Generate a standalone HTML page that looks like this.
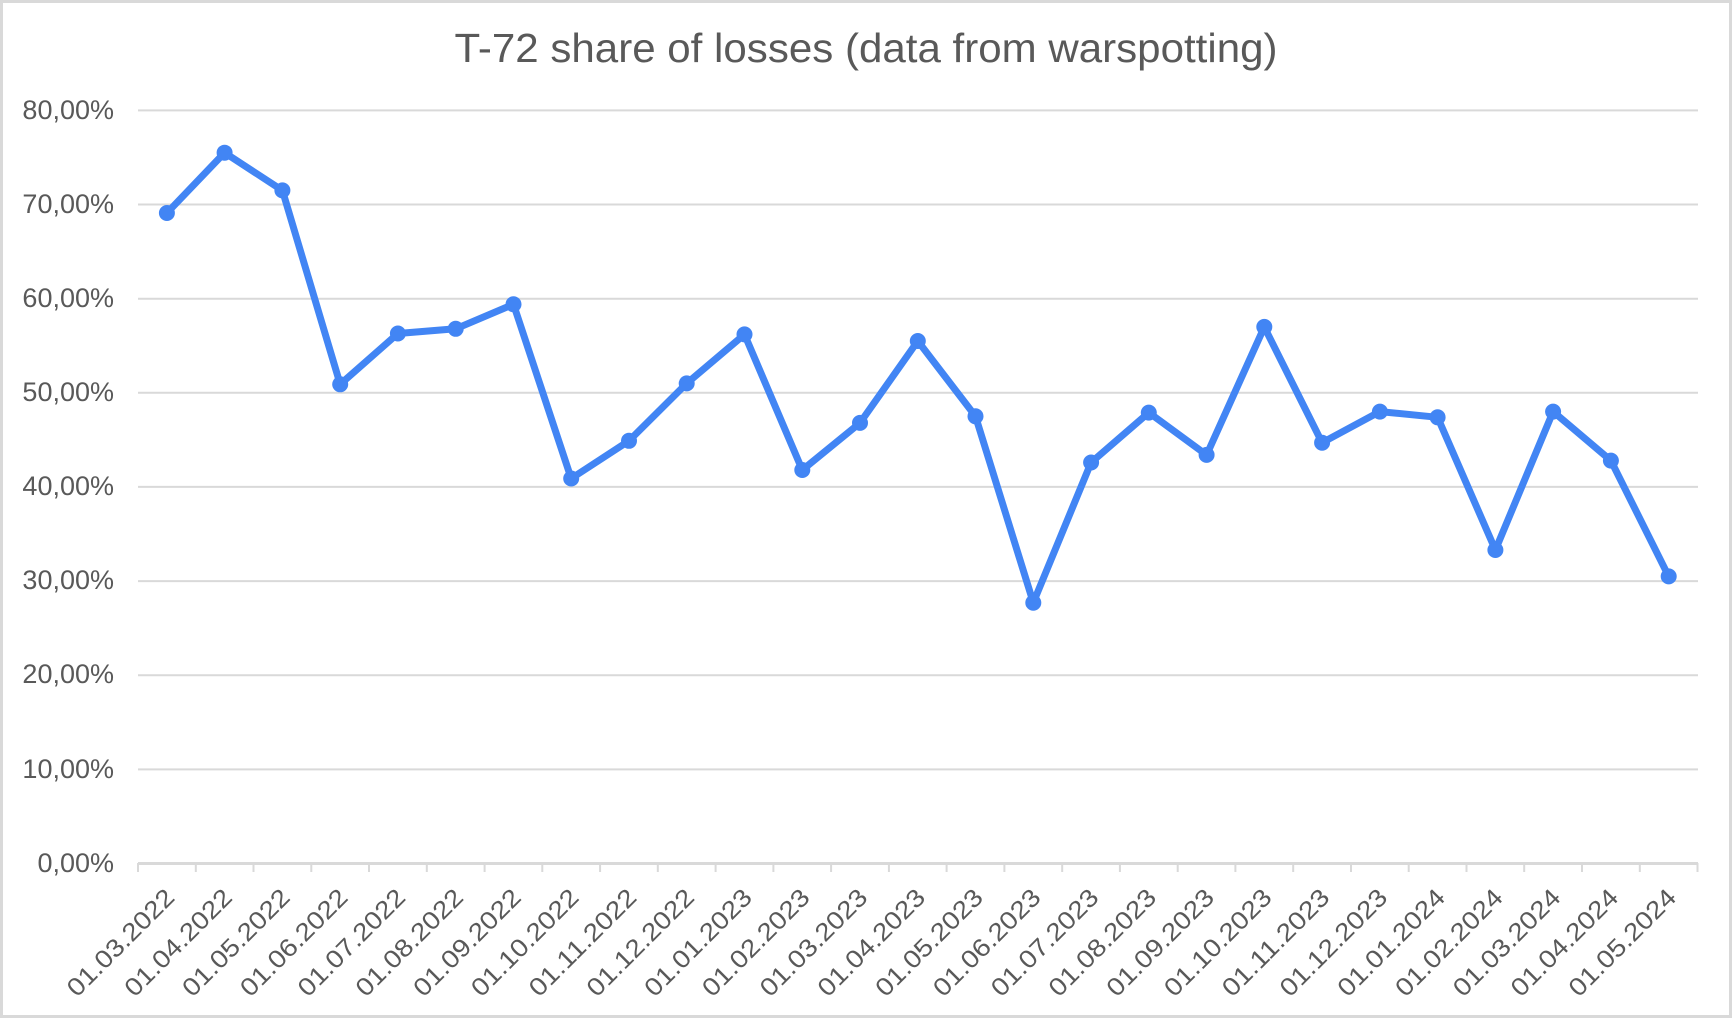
<!DOCTYPE html>
<html><head><meta charset="utf-8"><style>
html,body{margin:0;padding:0;background:#fff;}
svg{display:block;}
text{font-family:"Liberation Sans",Arial,sans-serif;fill:#595959;}
</style></head><body>
<svg width="1732" height="1018" viewBox="0 0 1732 1018" xmlns="http://www.w3.org/2000/svg">
<rect x="1.5" y="1.5" width="1729" height="1015" fill="#fff" stroke="#d9d9d9" stroke-width="3"/>
<text x="866" y="62" font-size="41" text-anchor="middle" textLength="823" lengthAdjust="spacingAndGlyphs">T-72 share of losses (data from warspotting)</text>
<g stroke="#d9d9d9" stroke-width="2">
<line x1="138" y1="110.4" x2="1698" y2="110.4"/>
<line x1="138" y1="204.5" x2="1698" y2="204.5"/>
<line x1="138" y1="298.7" x2="1698" y2="298.7"/>
<line x1="138" y1="392.8" x2="1698" y2="392.8"/>
<line x1="138" y1="486.9" x2="1698" y2="486.9"/>
<line x1="138" y1="581.1" x2="1698" y2="581.1"/>
<line x1="138" y1="675.2" x2="1698" y2="675.2"/>
<line x1="138" y1="769.4" x2="1698" y2="769.4"/>
<line x1="138" y1="863.5" x2="1698" y2="863.5" stroke-width="3"/>
</g>
<g stroke="#d9d9d9" stroke-width="2">
<line x1="138" y1="863" x2="138" y2="872"/><line x1="195.8" y1="863" x2="195.8" y2="872"/><line x1="253.5" y1="863" x2="253.5" y2="872"/><line x1="311.3" y1="863" x2="311.3" y2="872"/><line x1="369" y1="863" x2="369" y2="872"/><line x1="426.8" y1="863" x2="426.8" y2="872"/><line x1="484.6" y1="863" x2="484.6" y2="872"/><line x1="542.3" y1="863" x2="542.3" y2="872"/><line x1="600.1" y1="863" x2="600.1" y2="872"/><line x1="657.8" y1="863" x2="657.8" y2="872"/><line x1="715.6" y1="863" x2="715.6" y2="872"/><line x1="773.4" y1="863" x2="773.4" y2="872"/><line x1="831.1" y1="863" x2="831.1" y2="872"/><line x1="888.9" y1="863" x2="888.9" y2="872"/><line x1="946.6" y1="863" x2="946.6" y2="872"/><line x1="1004.4" y1="863" x2="1004.4" y2="872"/><line x1="1062.2" y1="863" x2="1062.2" y2="872"/><line x1="1119.9" y1="863" x2="1119.9" y2="872"/><line x1="1177.7" y1="863" x2="1177.7" y2="872"/><line x1="1235.4" y1="863" x2="1235.4" y2="872"/><line x1="1293.2" y1="863" x2="1293.2" y2="872"/><line x1="1351" y1="863" x2="1351" y2="872"/><line x1="1408.7" y1="863" x2="1408.7" y2="872"/><line x1="1466.5" y1="863" x2="1466.5" y2="872"/><line x1="1524.2" y1="863" x2="1524.2" y2="872"/><line x1="1582" y1="863" x2="1582" y2="872"/><line x1="1639.8" y1="863" x2="1639.8" y2="872"/><line x1="1697.5" y1="863" x2="1697.5" y2="872"/>
</g>
<g font-size="27" text-anchor="end">
<text x="114" y="119">80,00%</text>
<text x="114" y="213">70,00%</text>
<text x="114" y="307">60,00%</text>
<text x="114" y="401">50,00%</text>
<text x="114" y="495">40,00%</text>
<text x="114" y="589">30,00%</text>
<text x="114" y="683">20,00%</text>
<text x="114" y="778">10,00%</text>
<text x="114" y="872">0,00%</text>
</g>
<g font-size="25" text-anchor="end">
<text transform="translate(176,899) rotate(-45)" textLength="140" lengthAdjust="spacingAndGlyphs">01.03.2022</text>
<text transform="translate(233.6,899) rotate(-45)" textLength="140" lengthAdjust="spacingAndGlyphs">01.04.2022</text>
<text transform="translate(291.4,899) rotate(-45)" textLength="140" lengthAdjust="spacingAndGlyphs">01.05.2022</text>
<text transform="translate(349.2,899) rotate(-45)" textLength="140" lengthAdjust="spacingAndGlyphs">01.06.2022</text>
<text transform="translate(406.9,899) rotate(-45)" textLength="140" lengthAdjust="spacingAndGlyphs">01.07.2022</text>
<text transform="translate(464.7,899) rotate(-45)" textLength="140" lengthAdjust="spacingAndGlyphs">01.08.2022</text>
<text transform="translate(522.5,899) rotate(-45)" textLength="140" lengthAdjust="spacingAndGlyphs">01.09.2022</text>
<text transform="translate(580.2,899) rotate(-45)" textLength="140" lengthAdjust="spacingAndGlyphs">01.10.2022</text>
<text transform="translate(638,899) rotate(-45)" textLength="140" lengthAdjust="spacingAndGlyphs">01.11.2022</text>
<text transform="translate(695.7,899) rotate(-45)" textLength="140" lengthAdjust="spacingAndGlyphs">01.12.2022</text>
<text transform="translate(753.5,899) rotate(-45)" textLength="140" lengthAdjust="spacingAndGlyphs">01.01.2023</text>
<text transform="translate(811.3,899) rotate(-45)" textLength="140" lengthAdjust="spacingAndGlyphs">01.02.2023</text>
<text transform="translate(869,899) rotate(-45)" textLength="140" lengthAdjust="spacingAndGlyphs">01.03.2023</text>
<text transform="translate(926.8,899) rotate(-45)" textLength="140" lengthAdjust="spacingAndGlyphs">01.04.2023</text>
<text transform="translate(984.5,899) rotate(-45)" textLength="140" lengthAdjust="spacingAndGlyphs">01.05.2023</text>
<text transform="translate(1042.3,899) rotate(-45)" textLength="140" lengthAdjust="spacingAndGlyphs">01.06.2023</text>
<text transform="translate(1100.1,899) rotate(-45)" textLength="140" lengthAdjust="spacingAndGlyphs">01.07.2023</text>
<text transform="translate(1157.8,899) rotate(-45)" textLength="140" lengthAdjust="spacingAndGlyphs">01.08.2023</text>
<text transform="translate(1215.6,899) rotate(-45)" textLength="140" lengthAdjust="spacingAndGlyphs">01.09.2023</text>
<text transform="translate(1273.3,899) rotate(-45)" textLength="140" lengthAdjust="spacingAndGlyphs">01.10.2023</text>
<text transform="translate(1331.1,899) rotate(-45)" textLength="140" lengthAdjust="spacingAndGlyphs">01.11.2023</text>
<text transform="translate(1388.9,899) rotate(-45)" textLength="140" lengthAdjust="spacingAndGlyphs">01.12.2023</text>
<text transform="translate(1446.6,899) rotate(-45)" textLength="140" lengthAdjust="spacingAndGlyphs">01.01.2024</text>
<text transform="translate(1504.4,899) rotate(-45)" textLength="140" lengthAdjust="spacingAndGlyphs">01.02.2024</text>
<text transform="translate(1562.1,899) rotate(-45)" textLength="140" lengthAdjust="spacingAndGlyphs">01.03.2024</text>
<text transform="translate(1619.9,899) rotate(-45)" textLength="140" lengthAdjust="spacingAndGlyphs">01.04.2024</text>
<text transform="translate(1677.7,899) rotate(-45)" textLength="140" lengthAdjust="spacingAndGlyphs">01.05.2024</text>
</g>
<polyline fill="none" stroke="#4285f4" stroke-width="7" stroke-linejoin="round" stroke-linecap="round" points="166.9,213 224.6,152.7 282.4,190.4 340.2,384.3 397.9,333.5 455.7,328.8 513.5,304.3 571.2,478.5 629,440.8 686.7,383.4 744.5,334.4 802.3,470 860,422.9 917.8,341 975.5,416.3 1033.3,602.7 1091.1,462.5 1148.8,412.6 1206.6,454.9 1264.3,326.9 1322.1,442.7 1379.9,411.6 1437.6,417.3 1495.4,550 1553.1,411.6 1610.9,460.6 1668.7,576.4"/>
<g fill="#4285f4">
<circle cx="166.9" cy="213" r="8"/><circle cx="224.6" cy="152.7" r="8"/><circle cx="282.4" cy="190.4" r="8"/><circle cx="340.2" cy="384.3" r="8"/><circle cx="397.9" cy="333.5" r="8"/><circle cx="455.7" cy="328.8" r="8"/><circle cx="513.5" cy="304.3" r="8"/><circle cx="571.2" cy="478.5" r="8"/><circle cx="629" cy="440.8" r="8"/><circle cx="686.7" cy="383.4" r="8"/><circle cx="744.5" cy="334.4" r="8"/><circle cx="802.3" cy="470" r="8"/><circle cx="860" cy="422.9" r="8"/><circle cx="917.8" cy="341" r="8"/><circle cx="975.5" cy="416.3" r="8"/><circle cx="1033.3" cy="602.7" r="8"/><circle cx="1091.1" cy="462.5" r="8"/><circle cx="1148.8" cy="412.6" r="8"/><circle cx="1206.6" cy="454.9" r="8"/><circle cx="1264.3" cy="326.9" r="8"/><circle cx="1322.1" cy="442.7" r="8"/><circle cx="1379.9" cy="411.6" r="8"/><circle cx="1437.6" cy="417.3" r="8"/><circle cx="1495.4" cy="550" r="8"/><circle cx="1553.1" cy="411.6" r="8"/><circle cx="1610.9" cy="460.6" r="8"/><circle cx="1668.7" cy="576.4" r="8"/>
</g>
</svg>
</body></html>
